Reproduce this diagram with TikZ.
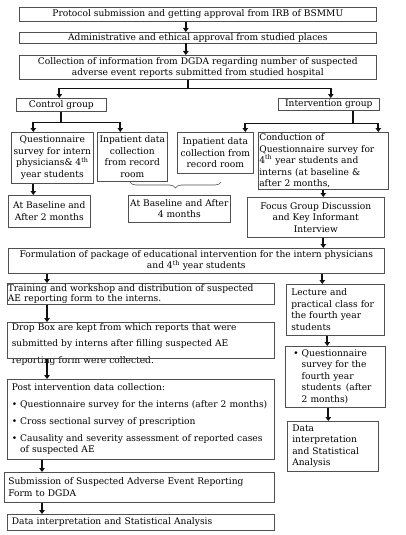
\documentclass[tikz,border=0pt]{standalone}
\usepackage{fontspec}
\setmainfont{DejaVu Serif}
\usetikzlibrary{arrows.meta,positioning,calc,decorations.pathreplacing}
\definecolor{boxline}{HTML}{505050}
\definecolor{flowline}{HTML}{111111}
\hyphenpenalty=10000
\exhyphenpenalty=10000

\begin{document}
\begin{tikzpicture}[x=1pt,y=-1pt,
  stage/.style={draw=boxline,line width=0.6pt,anchor=north west,inner xsep=1pt,inner ysep=1pt,
    font=\fontsize{9.1}{11.5}\selectfont},
  mid/.style={stage,align=center},
  lft/.style={stage,align=left},
  flow/.style={draw=flowline,line width=1.7pt,-{Triangle[width=5.5pt,length=4pt]}},
  link/.style={draw=flowline,line width=1.7pt},
  brc/.style={draw=boxline,line width=0.6pt,decorate,decoration={brace,mirror,amplitude=6pt}}]
  \useasboundingbox (0,0) rectangle (406,535);

  % start of the study
  \node[mid,minimum width=357,minimum height=14] (prot) at (19,7)
    {Protocol submission and getting approval from IRB of BSMMU};
  \node[mid,minimum width=357,minimum height=10] (admin) at (19,32)
    {Administrative and ethical approval from studied places};
  \node[mid,minimum width=357,minimum height=24] (dgda) at (19,55)
    {Collection of information from DGDA regarding number of suspected\\adverse event reports submitted from studied hospital};

  % the two groups
  \node[mid,minimum width=90,minimum height=13] (ctrl) at (16,98) {Control group};
  \node[mid,minimum width=101,minimum height=12] (intv) at (278,98) {Intervention group};

  % control arm
  \node[mid,minimum width=82,minimum height=51] (qctrl) at (11,132)
    {Questionnaire\\survey for intern\\physicians\& 4\textsuperscript{th}\\year students};
  \node[mid,minimum width=70,minimum height=49] (inp1) at (97,132)
    {Inpatient data\\collection\\from record\\room};
  \node[mid,minimum width=82,minimum height=32] (base1) at (8,195)
    {At Baseline and\\After 2 months};
  \node[mid,minimum width=102,minimum height=27,inner xsep=0pt] (base2) at (128,195)
    {At Baseline and After\\4 months};

  % intervention arm
  \node[mid,minimum width=76,minimum height=41] (inp2) at (177,132)
    {Inpatient data\\collection from\\record room};
  \node[lft,minimum width=130,minimum height=57,text width=128] (cond) at (258,132)
    {Conduction of\\Questionnaire survey for\\4\textsuperscript{th} year students and\\interns (at baseline \&\\after 2 months,};
  \node[mid,minimum width=137,minimum height=40] (focus) at (247,197)
    {Focus Group Discussion\\and Key Informant\\Interview};

  % educational intervention
  \node[mid,minimum width=376,minimum height=25] (form) at (8,248)
    {Formulation of package of educational intervention for the intern physicians\\and 4\textsuperscript{th} year students};
  \node[lft,minimum width=267,minimum height=19,text width=266,inner xsep=0.5pt,
    font=\fontsize{9.1}{10.5}\selectfont] (train) at (7,283)
    {Training and workshop and distribution of suspected\\AE reporting form to the interns.};
  \node[lft,draw=none,minimum width=267,text width=258,inner xsep=4.5pt,
    font=\fontsize{9.1}{16.5}\selectfont] (drop) at (7,322)
    {Drop Box are kept from which reports that were\\submitted by interns after filling suspected AE\\reporting form were collected.};
  \draw[boxline,line width=0.6pt] (drop.north west) rectangle ([yshift=8]drop.south east);
  \node[lft,minimum width=267,minimum height=80,text width=258,inner xsep=4.5pt,
    font=\fontsize{9.1}{17}\selectfont] (post) at (7,379)
    {Post intervention data collection:\\
     \textbullet\ Questionnaire survey for the interns (after 2 months)\\
     \textbullet\ Cross sectional survey of prescription\\
     \textbullet\ Causality and severity assessment of reported cases\\[-6pt]
     \phantom{\textbullet\ }of suspected AE};
  \node[lft,minimum width=270,minimum height=30,text width=262,inner xsep=4pt] (subm) at (4,472)
    {Submission of Suspected Adverse Event Reporting\\Form to DGDA};
  \node[lft,minimum width=267,minimum height=16,text width=258,inner xsep=4.5pt] (datal) at (7,514)
    {Data interpretation and Statistical Analysis};

  % fourth year students
  \node[lft,minimum width=98,minimum height=51,text width=88,inner xsep=5pt] (lect) at (286,284)
    {Lecture and\\practical class for\\the fourth year\\students};
  \node[lft,minimum width=100,minimum height=61,text width=84,inner xsep=8pt] (q4) at (285,346)
    {\textbullet\ Questionnaire\\\phantom{\textbullet\ }survey for the\\\phantom{\textbullet\ }fourth year\\\phantom{\textbullet\ }students\enspace(after\\\phantom{\textbullet\ }2 months)};
  \node[lft,minimum width=91,minimum height=50,text width=81,inner xsep=5pt] (datar) at (287,421)
    {Data\\interpretation\\and Statistical\\Analysis};

  % connectors
  \draw[flow] ([xshift=-12]prot.south) -- ([xshift=-12]admin.north);
  \draw[flow] ([xshift=-12]admin.south) -- ([xshift=-12]dgda.north);
  \draw[link] ([xshift=-10]dgda.south) -- ++(0,9) coordinate (split);
  \draw[flow] (split) -| ([xshift=-2]ctrl.north);
  \draw[flow] (split) -| ([xshift=2]intv.north);

  \draw[link] (ctrl.south) -- ++(0,11) coordinate (csplit);
  \draw[flow] (csplit) -| ([xshift=-19]qctrl.north);
  \draw[flow] (csplit) -| ([xshift=-12]inp1.north);
  \draw[link] ([xshift=24]intv.south) -- ++(0,13) coordinate (isplit);
  \draw[flow] (isplit) -| ([xshift=30]inp2.north);
  \draw[flow] (isplit) -| ([xshift=55]cond.north);

  \draw[flow] ([xshift=-19]qctrl.south) -- ([xshift=-19]qctrl.south |- base1.north);
  \draw[brc] (130,182) -- (221,182);

  \draw[flow] (cond.south) -- (cond.south |- focus.north);
  \draw[flow] (cond.south |- focus.south) -- (cond.south |- form.north);
  \draw[flow] ([xshift=40]train.north west |- form.south) -- ([xshift=40]train.north west);
  \draw[flow] ([xshift=-13]lect.north |- form.south) -- ([xshift=-13]lect.north);
  \draw[flow] ([xshift=40]train.south west) -- ([xshift=40]drop.north west);
  \draw[flow] ([xshift=40,yshift=8]drop.south west) -- ([xshift=40]post.north west);
  \draw[flow] ([xshift=35]post.south west) -- ([xshift=35]post.south west |- subm.north);
  \draw[flow] ([xshift=35]post.south west |- subm.south) -- ([xshift=35]post.south west |- datal.north);
  \draw[flow] ([xshift=-8]lect.south) -- ([xshift=-8]lect.south |- q4.north);
  \draw[flow] ([xshift=-7]q4.south) -- ([xshift=-7]q4.south |- datar.north);
\end{tikzpicture}
\end{document}
